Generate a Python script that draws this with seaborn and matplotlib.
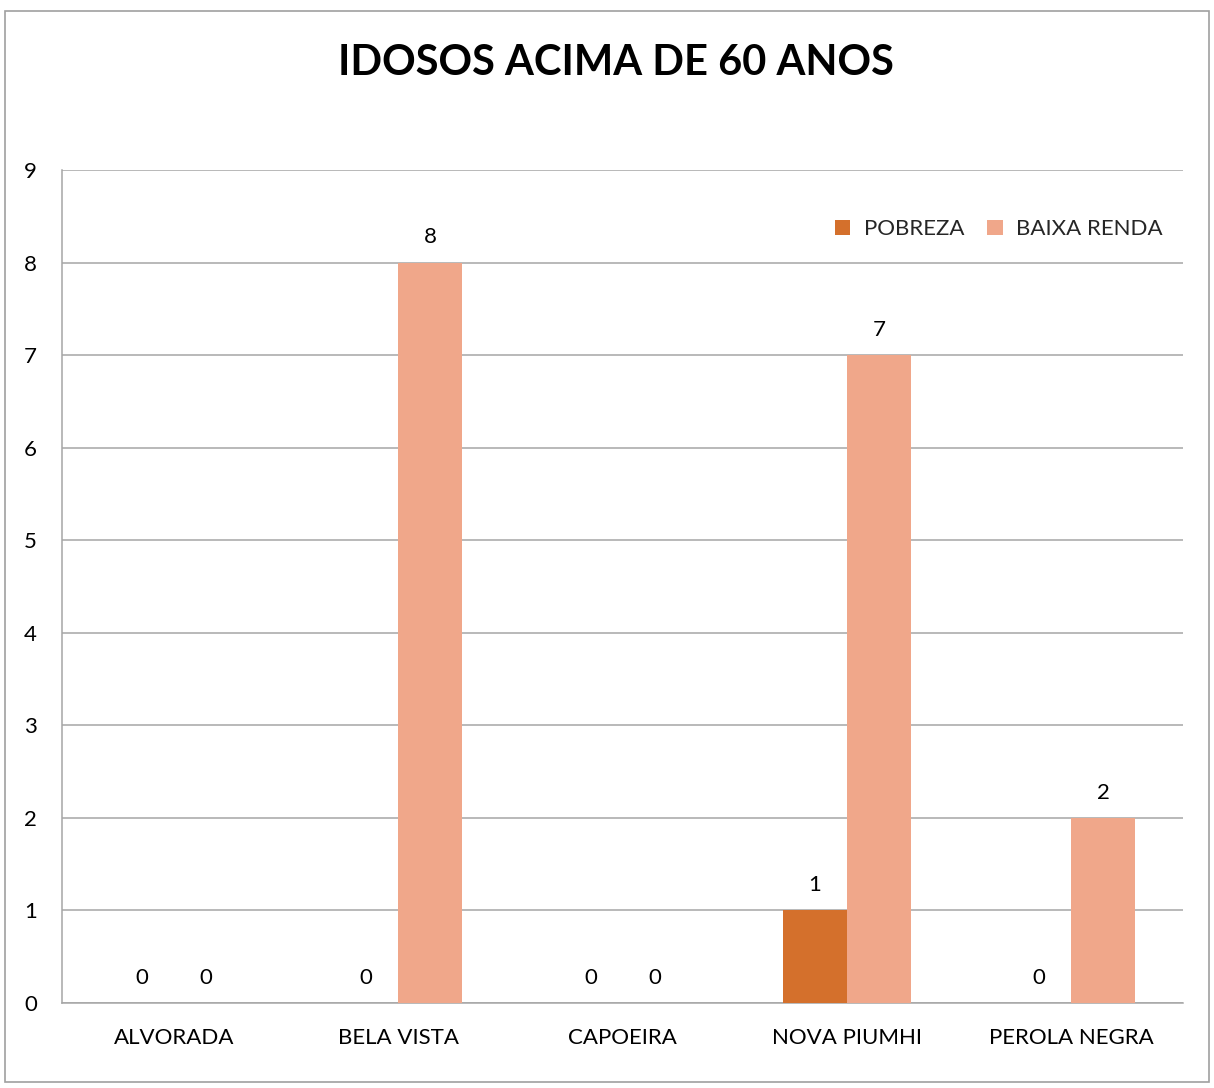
import pandas as pd
import numpy as np
import matplotlib
matplotlib.use('Agg')
import matplotlib.pyplot as plt
import seaborn as sns

sns.set_theme(style="white")
plt.rcParams['font.family'] = ['Lato', 'DejaVu Sans']

# Data
bairros = ['ALVORADA', 'BELA VISTA', 'CAPOEIRA', 'NOVA PIUMHI', 'PEROLA NEGRA']
pobreza = [0, 0, 0, 1, 0]
baixa_renda = [0, 8, 0, 7, 2]
series = ['POBREZA', 'BAIXA RENDA']
cores = ['#D4702C', '#F0A78A']

df = pd.DataFrame({
    'bairro': bairros * 2,
    'grupo': [series[0]] * len(bairros) + [series[1]] * len(bairros),
    'valor': pobreza + baixa_renda,
})

fig = plt.figure(figsize=(12.14, 10.88), dpi=100)
fig.patches.append(plt.Rectangle((5 / 1214, 1 - 1082 / 1088), 1204 / 1214, 1071 / 1088,
                                 transform=fig.transFigure, fill=False,
                                 edgecolor='#A0A0A0', linewidth=1.2))
ax = fig.add_axes([62 / 1214, 1 - 1003 / 1088, 1121 / 1214, 833 / 1088])

sns.barplot(data=df, x='bairro', y='valor', hue='grupo', order=bairros,
            hue_order=series, palette=cores, width=0.572, saturation=1,
            linewidth=0, ax=ax, zorder=3)

ax.set_ylim(0, 9)
ax.set_xlim(-0.5, len(bairros) - 0.5)
ax.set_yticks(range(0, 10))
ax.yaxis.grid(True, color='#A6A6A6', linewidth=1.1, zorder=0)
ax.set_axisbelow(True)
for s in ['top', 'right']:
    ax.spines[s].set_visible(False)
for s in ['left', 'bottom']:
    ax.spines[s].set_color('#A6A6A6')
    ax.spines[s].set_linewidth(1.1)
ax.tick_params(axis='y', length=0, pad=18, labelsize=16, labelcolor='black')
ax.tick_params(axis='x', length=0, pad=18, labelsize=16, labelcolor='black')
ax.set_xlabel('')
ax.set_ylabel('')

for cont in ax.containers:
    ax.bar_label(cont, fmt='%d', padding=11, fontsize=16, color='black')

leg = ax.legend(loc='upper right', bbox_to_anchor=(1.0, 0.965), ncol=2, frameon=False,
                fontsize=16, handlelength=0.7, handleheight=0.7, handletextpad=0.6,
                columnspacing=1.05)

fig.text(0.507, 1 - 63 / 1088, 'IDOSOS ACIMA DE 60 ANOS', ha='center', va='center',
         fontsize=30, fontweight='bold', color='black')

fig.savefig('out.png', dpi=100)
